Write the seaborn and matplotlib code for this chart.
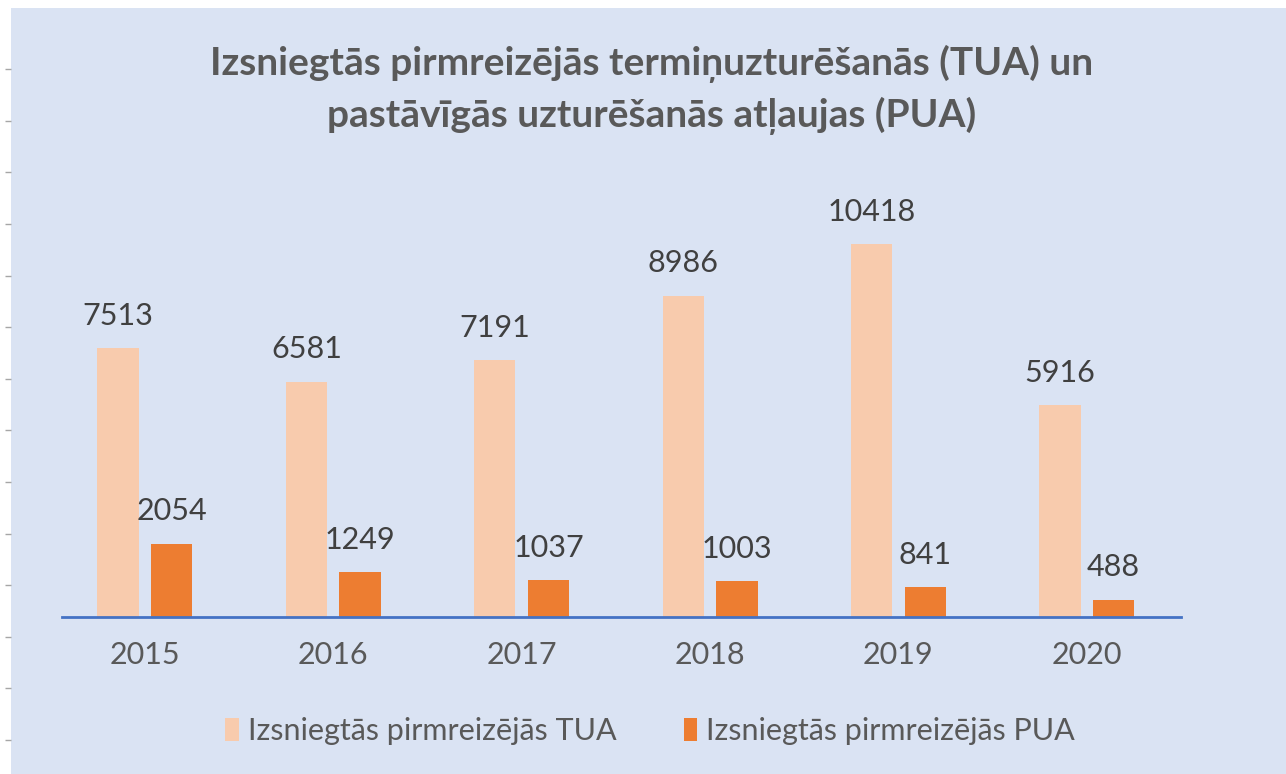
import pandas as pd
import matplotlib.pyplot as plt
import seaborn as sns

# Data
years = ['2015', '2016', '2017', '2018', '2019', '2020']
tua = [7513, 6581, 7191, 8986, 10418, 5916]
pua = [2054, 1249, 1037, 1003, 841, 488]
series_names = ['Izsniegtās pirmreizējās TUA', 'Izsniegtās pirmreizējās PUA']
title = 'Izsniegtās pirmreizējās termiņuzturēšanās (TUA) un\npastāvīgās uzturēšanās atļaujas (PUA)'

df = pd.DataFrame({
    'Year': years * 2,
    'Value': tua + pua,
    'Series': [series_names[0]] * len(years) + [series_names[1]] * len(years),
})

sns.set_theme(style='white')
plt.rcParams['font.family'] = ['Lato', 'DejaVu Sans']

bg = '#DAE3F3'
colors = {series_names[0]: '#F8CBAD', series_names[1]: '#ED7D31'}

fig = plt.figure(figsize=(12.86, 7.74), dpi=100)
fig.patch.set_facecolor('white')

# light blue panel with the little marks along its left edge
panel = fig.add_axes([11 / 1286, 0, 1 - 11 / 1286, 1 - 8 / 774])
panel.set_facecolor(bg)
panel.set_xticks([])
panel.set_ylim(0, 766)
panel.set_yticks([34 + 51.6 * i for i in range(14)])
panel.set_yticklabels([])
panel.tick_params(axis='y', direction='out', length=4, color='#A6A6A6', width=1, left=True)
for s in panel.spines.values():
    s.set_visible(False)

# main chart
ax = fig.add_axes([62 / 1286, 157 / 774, 1119 / 1286, 418.6 / 774])
ax.patch.set_alpha(0)
sns.barplot(data=df, x='Year', y='Value', hue='Series', palette=colors,
            width=0.57, gap=0.23, saturation=1, linewidth=0, ax=ax, legend=True)

for cont in ax.containers:
    ax.bar_label(cont, fmt='%d', padding=13, fontsize=22, color='#404040')

ax.set_ylim(0, 11700)
ax.set_xlim(-0.44, 5.5)
ax.set_xlabel('')
ax.set_ylabel('')
ax.set_yticks([])
ax.tick_params(axis='x', length=0, pad=17, labelsize=22, labelcolor='#595959')
for side in ['top', 'right', 'left']:
    ax.spines[side].set_visible(False)
ax.spines['bottom'].set_color('#4472C4')
ax.spines['bottom'].set_linewidth(2)

leg = ax.legend(loc='center', bbox_to_anchor=(650 / 1286, 43 / 774),
                bbox_transform=fig.transFigure, ncol=2, frameon=False,
                fontsize=22, labelcolor='#595959', handlelength=0.45,
                handleheight=0.75, handletextpad=0.3, columnspacing=2.2)

fig.text(652 / 1286, 1 - 45 / 774, title, ha='center', va='top',
         fontsize=28, fontweight='bold', color='#595959', linespacing=1.47)

fig.savefig('out.png', dpi=100, facecolor=fig.get_facecolor())
